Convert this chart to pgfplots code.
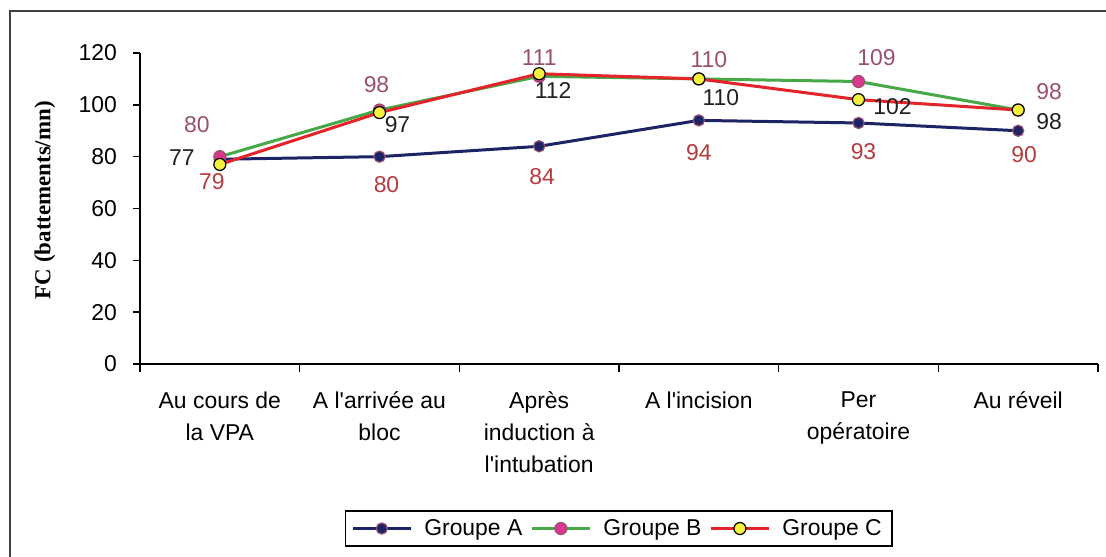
\documentclass[border=0pt]{standalone}
\usepackage{pgfplots}
\pgfplotsset{compat=1.18}
\usepackage{pgfplotstable}
\usepackage{fontspec}
\setmainfont{Liberation Sans}
\newfontfamily\serifb{Liberation Serif}
\newcommand\lab{\fontsize{11.5}{16}\selectfont}
\newcommand\q{\textquotesingle}

\definecolor{navyA}{HTML}{1C2466}
\definecolor{greenB}{HTML}{46A846}
\definecolor{redC}{HTML}{E5232B}
\definecolor{magB}{HTML}{D8388E}
\definecolor{yelC}{HTML}{F4F03C}
\definecolor{labA}{HTML}{B53A3E}
\definecolor{labB}{HTML}{985070}
\definecolor{labC}{HTML}{202020}

\pgfplotstableread{
x y dx dy
0 79 -4 -11.3
1 80 3.5 -14
2 84 1.5 -15
3 94 0 -16
4 93 2.5 -14.5
5 90 3 -12
}\tA
\pgfplotstableread{
x y dx dy
0 80 -11.5 15.8
1 98 -1.5 12.5
2 111 0 9.2
3 110 5 9.5
4 109 9 12
5 98 15.5 9
}\tB
\pgfplotstableread{
x y dx dy
0 77 -19 3.2
1 97 9 -6.2
2 112 7 -8.2
3 110 11 -9.5
4 102 17 -3.7
5 98 15.5 -6
}\tC

\begin{document}
\begin{tikzpicture}
\useasboundingbox (0,0) rectangle (553bp,278.5bp);
\draw[line width=1.2bp, black!75] (5bp,-10bp) -- (5bp,273bp) -- (570bp,273bp);
\begin{axis}[
  at={(70bp,96.5bp)}, anchor=south west,
  scale only axis, width=479bp, height=155.5bp,
  xmin=-0.5, xmax=5.5, ymin=0, ymax=120,
  clip=false,
  /pgf/number format/assume math mode=true,
  axis x line*=bottom, axis y line*=left,
  axis line style={line width=0.8bp, black, -},
  xtick={0,...,5},
  xticklabels={{Au cours de\\la VPA},{A l\q arrivée au\\bloc},{Après\\induction à\\l\q intubation},{A l\q incision},{Per\\opératoire},{Au réveil}},
  xticklabel style={align=center, font=\lab, anchor=north, yshift=-7bp},
  major x tick style={draw=none},
  minor xtick={-0.5,0.5,1.5,2.5,3.5,4.5,5.5},
  minor tick length=4bp,
  ytick={0,20,...,120},
  yticklabel style={font=\lab, xshift=-4.5bp},
  major tick length=3.5bp,
  tick align=outside,
  tick style={black, line width=0.8bp},
  ylabel={\serifb\bfseries FC (battements/mn)},
  ylabel style={at={(axis description cs:-0.0992,0.527)}, anchor=center, font=\fontsize{11.5}{13}\selectfont},
  legend columns=3,
  legend style={at={(0.4995,-0.529)}, anchor=center, draw=black, line width=0.8bp, font=\lab,
    /tikz/every even column/.append style={column sep=2bp},
    /tikz/every odd column/.append style={column sep=4bp}},
  legend image code/.code={\draw[mark repeat=2,mark phase=2,#1] plot coordinates {(0bp,0bp) (14.5bp,0bp) (29bp,0bp)};},
  every node near coord/.append style={font=\lab},
  visualization depends on={\thisrow{dx}\as\mydx},
  visualization depends on={\thisrow{dy}\as\mydy},
]
\addplot[navyA, line width=1.5bp, mark=*, mark size=2.8bp,
  mark options={fill=navyA, draw=labB, line width=0.6bp, solid},
  nodes near coords,
  every node near coord/.append style={labA, anchor=center, xshift=\mydx*1bp, yshift=\mydy*1bp}]
  table[x=x,y=y]{\tA};
\addlegendentry{Groupe A}
\addplot[greenB, line width=1.5bp, mark=*, mark size=3bp,
  mark options={fill=magB, draw=labB, line width=0.6bp, solid},
  nodes near coords,
  every node near coord/.append style={labB, anchor=center, xshift=\mydx*1bp, yshift=\mydy*1bp}]
  table[x=x,y=y]{\tB};
\addlegendentry{Groupe B}
\addplot[redC, line width=1.5bp, mark=*, mark size=3bp,
  mark options={fill=yelC, draw=black, line width=0.6bp, solid},
  nodes near coords,
  every node near coord/.append style={labC, anchor=center, xshift=\mydx*1bp, yshift=\mydy*1bp}]
  table[x=x,y=y]{\tC};
\addlegendentry{Groupe C}
\end{axis}
\end{tikzpicture}
\end{document}
